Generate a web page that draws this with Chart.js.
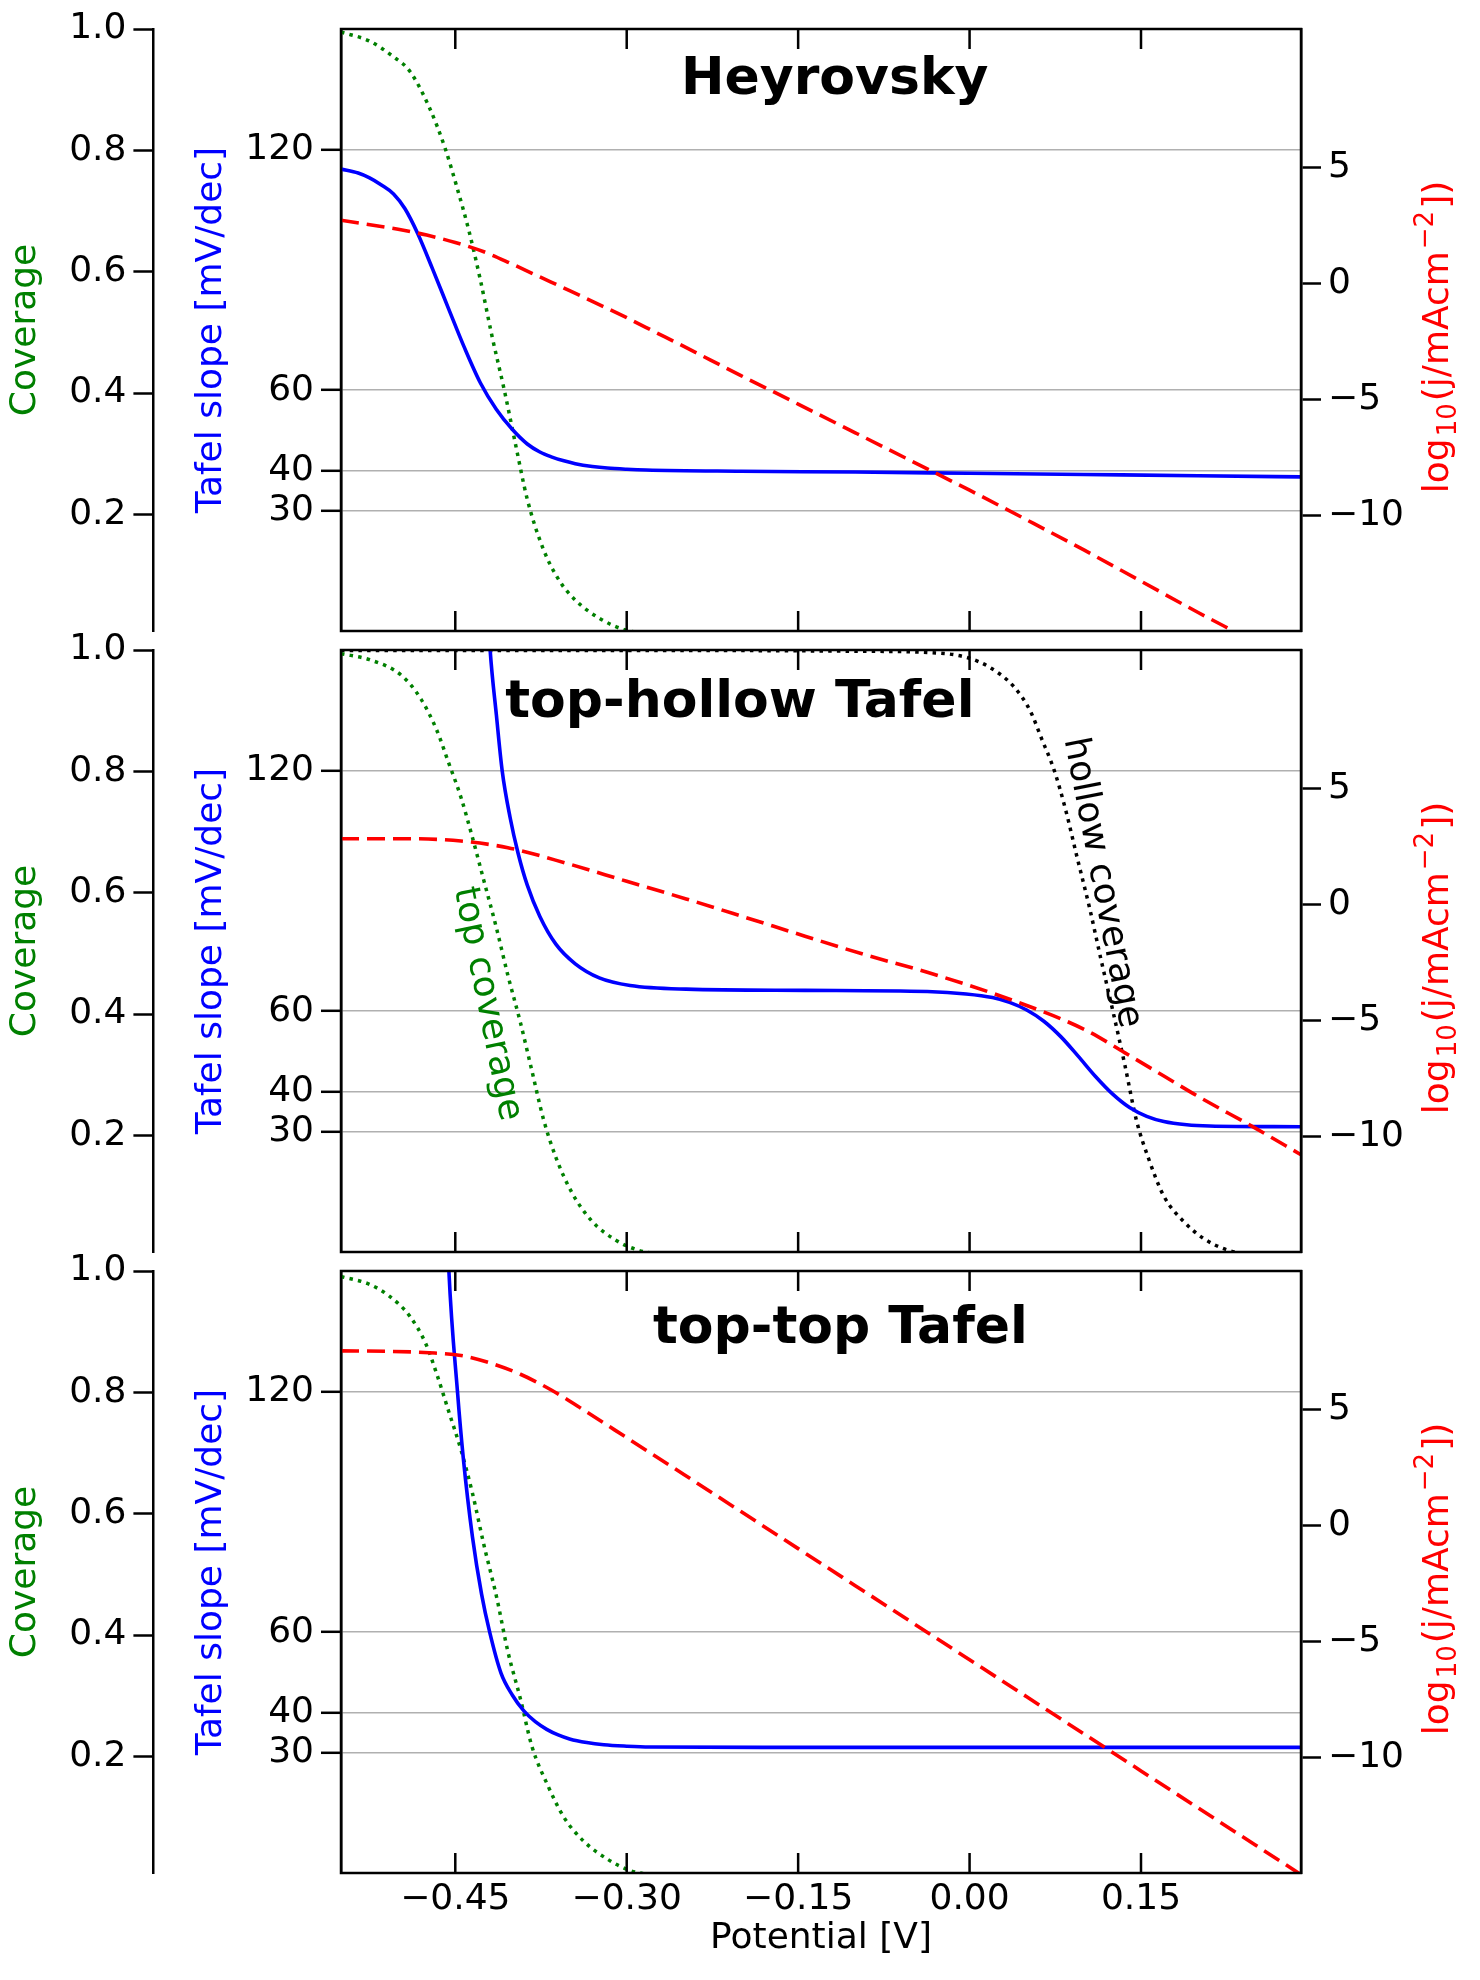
<!DOCTYPE html>
<html>
<head>
<meta charset="utf-8">
<script src="https://cdn.jsdelivr.net/npm/chart.js@4.4.1/dist/chart.umd.min.js"></script>
<style>
  html, body { margin: 0; padding: 0; background: #fff; }
  #wrap { position: relative; width: 1480px; height: 1980px; }
  #wrap canvas { position: absolute; left: 0; top: 0; }
</style>
</head>
<body>
<div id="wrap">
  <canvas id="panel1" width="1480" height="1980"></canvas>
  <canvas id="panel2" width="1480" height="1980"></canvas>
  <canvas id="panel3" width="1480" height="1980"></canvas>
</div>
<script>
const FONT = "'DejaVu Sans', 'Noto Sans', sans-serif";
Chart.defaults.font.family = FONT;
Chart.defaults.font.size = 36;
Chart.defaults.color = '#000';

// axes
const potentialRange = [-0.55, 0.29];
const potentialTicks = [-0.45, -0.30, -0.15, 0.00, 0.15];
const tafelRange = [0, 150];
const tafelTicks = [30, 40, 60, 120];
const coverageRange = [0.008, 1.0];
const coverageTicks = [0.2, 0.4, 0.6, 0.8, 1.0];
const logRange = [-15, 11];
const logTicks = [-10, -5, 0, 5];

// Heyrovsky panel  [potential V, value]
const heyCoverage = [
  [-0.550, 0.995], [-0.525, 0.980], [-0.504, 0.954], [-0.490, 0.931], [-0.473, 0.872],
  [-0.459, 0.804], [-0.449, 0.742], [-0.438, 0.667], [-0.428, 0.586], [-0.418, 0.495],
  [-0.407, 0.404], [-0.397, 0.313], [-0.387, 0.225], [-0.373, 0.143], [-0.359, 0.091],
  [-0.345, 0.059], [-0.324, 0.029], [-0.302, 0.010], [-0.280, 0.003]
];
const heyTafel = [
  [-0.550, 115.1], [-0.535, 114.1], [-0.525, 112.9], [-0.515, 111.2], [-0.504, 108.9],
  [-0.494, 105.2], [-0.483, 99.1], [-0.470, 90.3], [-0.456, 80.4], [-0.442, 70.6],
  [-0.428, 61.8], [-0.414, 55.2], [-0.400, 50.2], [-0.387, 46.6], [-0.376, 44.6],
  [-0.366, 43.4], [-0.355, 42.4], [-0.345, 41.7], [-0.330, 41.0], [-0.317, 40.6],
  [-0.300, 40.3], [-0.283, 40.1], [-0.200, 39.8], [-0.100, 39.6], [0.000, 39.3],
  [0.100, 39.0], [0.200, 38.7], [0.290, 38.4]
];
const heyLogJ = [
  [-0.550, 2.74], [-0.500, 2.35], [-0.475, 2.10], [-0.450, 1.78], [-0.425, 1.38],
  [-0.400, 0.84], [-0.375, 0.27], [-0.350, -0.30], [-0.325, -0.88], [-0.300, -1.47],
  [-0.275, -2.09], [-0.250, -2.71], [-0.200, -3.97], [-0.150, -5.20], [-0.100, -6.44],
  [-0.050, -7.68], [0.000, -8.92], [0.050, -10.20], [0.100, -11.50], [0.150, -12.85],
  [0.200, -14.20], [0.250, -15.50], [0.290, -16.60]
];

// top-hollow Tafel panel
const thCoverageTop = [
  [-0.550, 0.994], [-0.525, 0.984], [-0.497, 0.958], [-0.480, 0.919], [-0.466, 0.867],
  [-0.456, 0.815], [-0.445, 0.757], [-0.435, 0.691], [-0.425, 0.620], [-0.414, 0.542],
  [-0.404, 0.464], [-0.393, 0.386], [-0.383, 0.307], [-0.373, 0.228], [-0.362, 0.164],
  [-0.348, 0.106], [-0.331, 0.060], [-0.310, 0.028], [-0.290, 0.011], [-0.270, 0.004]
];
const thCoverageHollow = [
  [-0.550, 0.999], [-0.200, 0.999], [-0.100, 0.998], [-0.037, 0.996], [-0.003, 0.988],
  [0.018, 0.971], [0.039, 0.939], [0.053, 0.900], [0.063, 0.854], [0.074, 0.802],
  [0.084, 0.737], [0.094, 0.659], [0.105, 0.575], [0.115, 0.490], [0.126, 0.400],
  [0.136, 0.315], [0.146, 0.225], [0.157, 0.160], [0.170, 0.100], [0.188, 0.057],
  [0.205, 0.030], [0.226, 0.011], [0.250, 0.003]
];
const thTafel = [
  [-0.425, 178], [-0.4195, 150], [-0.414, 133.7], [-0.409, 120.0], [-0.402, 108.2],
  [-0.395, 99.3], [-0.387, 91.4], [-0.376, 83.6], [-0.362, 76.7], [-0.345, 71.8],
  [-0.324, 68.3], [-0.297, 66.4], [-0.248, 65.5], [-0.144, 65.2], [-0.037, 64.9],
  [-0.003, 64.3], [0.020, 63.4], [0.035, 62.2], [0.050, 60.3], [0.065, 57.5],
  [0.080, 53.6], [0.095, 48.8], [0.110, 43.8], [0.125, 39.4], [0.140, 36.0],
  [0.155, 33.8], [0.170, 32.5], [0.190, 31.7], [0.210, 31.4], [0.290, 31.2]
];
const thLogJ = [
  [-0.550, 2.85], [-0.490, 2.85], [-0.445, 2.75], [-0.404, 2.46], [-0.352, 1.78],
  [-0.300, 1.01], [-0.248, 0.25], [-0.196, -0.55], [-0.144, -1.36], [-0.093, -2.14],
  [-0.037, -2.92], [0.032, -4.03], [0.101, -5.40], [0.136, -6.40], [0.170, -7.40],
  [0.200, -8.28], [0.250, -9.65], [0.290, -10.80]
];

// top-top Tafel panel
const ttCoverage = [
  [-0.550, 0.991], [-0.525, 0.978], [-0.508, 0.959], [-0.490, 0.926], [-0.476, 0.881],
  [-0.466, 0.829], [-0.456, 0.770], [-0.445, 0.705], [-0.435, 0.634], [-0.425, 0.549],
  [-0.414, 0.464], [-0.404, 0.373], [-0.393, 0.295], [-0.383, 0.217], [-0.369, 0.152],
  [-0.355, 0.100], [-0.338, 0.061], [-0.317, 0.031], [-0.297, 0.012], [-0.275, 0.004]
];
const ttTafel = [
  [-0.460, 185], [-0.4556, 150], [-0.4481, 120], [-0.443, 103.4], [-0.435, 83.8],
  [-0.427, 69.5], [-0.4199, 60.0], [-0.410, 49.8], [-0.400, 44.3], [-0.390, 40.4],
  [-0.380, 37.7], [-0.370, 35.8], [-0.360, 34.4], [-0.350, 33.4], [-0.335, 32.5],
  [-0.320, 31.95], [-0.300, 31.6], [-0.280, 31.4], [-0.150, 31.3], [0.290, 31.3]
];
const ttLogJ = [
  [-0.550, 7.55], [-0.508, 7.53], [-0.473, 7.47], [-0.445, 7.35], [-0.421, 7.05],
  [-0.393, 6.54], [-0.366, 5.86], [-0.335, 4.91], [-0.300, 3.80], [-0.250, 2.21],
  [-0.200, 0.61], [-0.150, -0.99], [-0.100, -2.59], [-0.050, -4.19], [0.000, -5.79],
  [0.050, -7.39], [0.100, -8.99], [0.150, -10.59], [0.200, -12.19], [0.250, -13.79],
  [0.290, -15.07]
];

const panelTops = [29, 650, 1271];
const PANEL_H = 602;
const X_AXIS_H = 107;

const minus = s => s.replace('-', '\u2212');
const pts = arr => arr.map(([x, y]) => ({x, y}));

function line(data, axis, color, dash, width) {
  return {
    data: pts(data), yAxisID: axis, borderColor: color, borderWidth: width,
    borderDash: dash, borderCapStyle: 'butt', pointRadius: 0, fill: false,
    cubicInterpolationMode: 'monotone'
  };
}
const DOTS = [3.5, 5.2];
const DASH = [18, 8];
const LW = 3.6;

// log10(j/mAcm^-2]) label on the right, with sub and superscript
function drawLogLabel(ctx, x, y) {
  const parts = [
    {t: 'log', size: 36, dy: 0},
    {t: '10', size: 26, dy: 8},
    {t: '(j/mAcm', size: 36, dy: 0},
    {t: '\u22122', size: 26, dy: -15},
    {t: '])', size: 36, dy: 0}
  ];
  ctx.save();
  ctx.translate(x, y);
  ctx.rotate(-Math.PI / 2);
  ctx.fillStyle = '#ff0000';
  ctx.textAlign = 'left';
  ctx.textBaseline = 'alphabetic';
  let total = 0;
  parts.forEach(p => { ctx.font = p.size + 'px ' + FONT; p.w = ctx.measureText(p.t).width + 2; total += p.w; });
  let cx = -total / 2;
  parts.forEach(p => { ctx.font = p.size + 'px ' + FONT; ctx.fillText(p.t, cx, p.dy); cx += p.w; });
  ctx.restore();
}

const decor = {
  id: 'decor',
  afterDraw(chart, args, opts) {
    const {ctx, chartArea: a, scales} = chart;
    ctx.save();
    // box round the plot
    ctx.strokeStyle = '#000';
    ctx.lineWidth = 2.5;
    ctx.strokeRect(a.left, a.top, a.right - a.left, a.bottom - a.top);
    // potential ticks point inwards, top and bottom
    ctx.beginPath();
    potentialTicks.forEach(v => {
      const px = scales.x.getPixelForValue(v);
      ctx.moveTo(px, a.top); ctx.lineTo(px, a.top + 20);
      ctx.moveTo(px, a.bottom); ctx.lineTo(px, a.bottom - 20);
    });
    ctx.stroke();
    // panel name
    ctx.fillStyle = '#000';
    ctx.font = 'bold 52px ' + FONT;
    ctx.textAlign = 'center';
    ctx.textBaseline = 'alphabetic';
    ctx.fillText(opts.title, scales.x.getPixelForValue(opts.titleAt), a.top + opts.titleDy);
    // rotated curve notes
    (opts.notes || []).forEach(n => {
      ctx.save();
      ctx.translate(scales.x.getPixelForValue(n.at[0]), scales.tafel.getPixelForValue(n.at[1]));
      ctx.rotate(n.angle * Math.PI / 180);
      ctx.font = '36px ' + FONT;
      ctx.fillStyle = n.color;
      ctx.textAlign = 'center';
      ctx.textBaseline = 'middle';
      ctx.fillText(n.text, 0, 0);
      ctx.restore();
    });
    drawLogLabel(ctx, 1448, (a.top + a.bottom) / 2 + 6);
    ctx.restore();
  }
};

function setTicks(list) {
  return s => { s.ticks = list.map(v => ({value: v})); };
}

function makePanel(id, idx, sets, decorOpts) {
  const top = panelTops[idx];
  const last = idx === 2;
  return new Chart(document.getElementById(id), {
    type: 'line',
    data: { datasets: sets },
    options: {
      responsive: false,
      animation: false,
      devicePixelRatio: 1,
      events: [],
      layout: { padding: { top: top, bottom: last ? 0 : 1980 - top - PANEL_H, left: 0, right: 0 } },
      plugins: { legend: { display: false }, tooltip: { enabled: false }, decor: decorOpts },
      scales: {
        x: {
          type: 'linear', position: 'bottom',
          min: potentialRange[0], max: potentialRange[1],
          display: last,
          afterBuildTicks: setTicks(potentialTicks),
          afterFit: s => { s.height = last ? X_AXIS_H : 0; },
          grid: { display: false, drawTicks: false },
          border: { display: false },
          ticks: { autoSkip: false, maxRotation: 0, minRotation: 0, padding: 5,
                   callback: v => minus(v.toFixed(2)) },
          title: { display: true, text: 'Potential [V]', padding: { top: 0, bottom: 20 } }
        },
        tafel: {
          type: 'linear', position: 'left', weight: 0,
          min: tafelRange[0], max: tafelRange[1],
          afterBuildTicks: setTicks(tafelTicks),
          afterFit: s => { s.width = 187.6; },
          grid: { color: '#b0b0b0', lineWidth: 1.6, drawOnChartArea: true, drawTicks: true,
                  tickLength: 20, tickColor: '#000', tickWidth: 2.5 },
          border: { display: true, color: '#000', width: 2.5 },
          ticks: { autoSkip: false, padding: 7 },
          title: { display: true, text: 'Tafel slope [mV/dec]', color: '#0000ff',
                   padding: { top: 37, bottom: 0 } }
        },
        cov: {
          type: 'linear', position: 'left', weight: 1,
          min: coverageRange[0], max: coverageRange[1],
          afterBuildTicks: setTicks(coverageTicks),
          afterFit: s => { s.width = 153.4; },
          grid: { drawOnChartArea: false, drawTicks: true, tickLength: 20,
                  tickColor: '#000', tickWidth: 2.5 },
          border: { display: true, color: '#000', width: 2.5 },
          ticks: { autoSkip: false, padding: 7, callback: v => v.toFixed(1) },
          title: { display: true, text: 'Coverage', color: '#008000', padding: { top: 4, bottom: 0 } }
        },
        logj: {
          type: 'linear', position: 'right',
          min: logRange[0], max: logRange[1],
          afterBuildTicks: setTicks(logTicks),
          afterFit: s => { s.width = 179; },
          grid: { drawOnChartArea: false, drawTicks: true, tickLength: 20,
                  tickColor: '#000', tickWidth: 2.5 },
          border: { display: true, color: '#000', width: 2.5 },
          ticks: { autoSkip: false, padding: 7, callback: v => minus(String(v)) },
          title: { display: false }
        }
      }
    },
    plugins: [decor]
  });
}

makePanel('panel1', 0, [
  line(heyLogJ, 'logj', '#ff0000', DASH, LW),
  line(heyTafel, 'tafel', '#0000ff', [], LW),
  line(heyCoverage, 'cov', '#008000', DOTS, 3.5)
], { title: 'Heyrovsky', titleAt: -0.118, titleDy: 65 });

makePanel('panel2', 1, [
  line(thLogJ, 'logj', '#ff0000', DASH, LW),
  line(thTafel, 'tafel', '#0000ff', [], LW),
  line(thCoverageTop, 'cov', '#008000', DOTS, 3.5),
  line(thCoverageHollow, 'cov', '#000000', DOTS, 3.5)
], {
  title: 'top-hollow Tafel', titleAt: -0.201, titleDy: 67,
  notes: [
    { text: 'top coverage', color: '#008000', at: [-0.4223, 61.8], angle: 78.7 },
    { text: 'hollow coverage', color: '#000000', at: [0.1157, 92.0], angle: 79 }
  ]
});

makePanel('panel3', 2, [
  line(ttLogJ, 'logj', '#ff0000', DASH, LW),
  line(ttTafel, 'tafel', '#0000ff', [], LW),
  line(ttCoverage, 'cov', '#008000', DOTS, 3.5)
], { title: 'top-top Tafel', titleAt: -0.113, titleDy: 72 });
</script>
</body>
</html>
